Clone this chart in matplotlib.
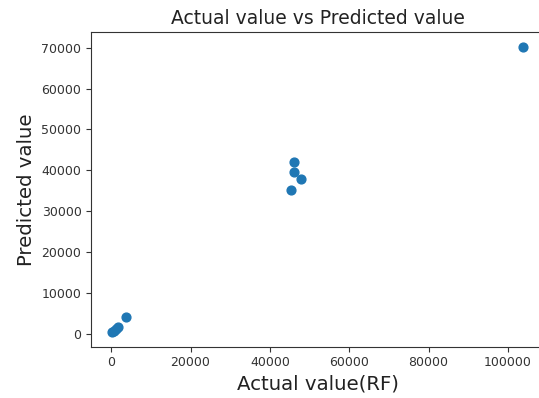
import matplotlib
matplotlib.use("Agg")
import matplotlib.pyplot as plt

# Actual vs predicted values (Random Forest)
actual = [150, 600, 1300, 1700, 3800, 45300, 46100, 46100, 47900, 103900]
predicted = [300, 700, 1100, 1500, 3930, 35050, 42000, 39560, 37840, 70270]

W, H, DPI = 539, 398, 100
fig = plt.figure(figsize=(W / DPI, H / DPI), dpi=DPI)
ax = fig.add_axes([91.2 / W, 1 - 346.6 / H, (544 - 91.2) / W, (346.6 - 32.3) / H])

ax.scatter(actual, predicted, s=40, color="#1f77b4")
ax.set_title("Actual value vs Predicted value", fontsize=13.5, color="#222222")
ax.set_xlabel("Actual value(RF)", fontsize=14.2, color="#222222")
ax.set_ylabel("Predicted value", fontsize=14.2, color="#222222")
ax.tick_params(labelsize=9, colors="#333333")
for sp in ax.spines.values():
    sp.set_color("#333333")
ax.spines["right"].set_visible(False)
ax.set_xticks([0, 20000, 40000, 60000, 80000, 100000])
ax.set_yticks([0, 10000, 20000, 30000, 40000, 50000, 60000, 70000])

fig.savefig("out.png", dpi=DPI)
